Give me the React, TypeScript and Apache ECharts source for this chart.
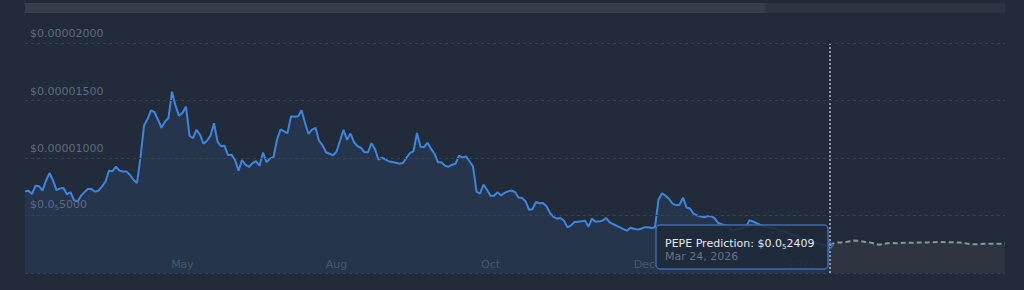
import React, { useEffect, useRef } from 'react';
import * as echarts from 'echarts';

// Historical PEPE price, in millionths of a dollar (1 = $0.000001)
const histPrice = [
  7.10, 7.16, 6.87, 7.59, 7.55, 7.16, 8.04, 8.69, 8.07, 7.20,
  7.35, 7.39, 6.84, 7.03, 6.33, 6.20, 6.72, 7.03, 7.33, 7.29,
  7.07, 7.16, 7.53, 7.94, 8.90, 8.85, 9.24, 8.90, 8.83, 8.83,
  8.52, 8.11, 7.83, 10.03, 12.83, 13.39, 14.14, 13.98, 13.33, 12.63,
  13.16, 13.48, 15.77, 14.55, 13.68, 13.94, 14.46, 11.94, 11.72, 12.46,
  12.03, 11.24, 11.50, 11.94, 13.03, 11.42, 11.03, 11.07, 10.25, 10.29,
  9.85, 8.90, 9.81, 9.42, 9.22, 9.55, 9.72, 9.33, 10.46, 9.65,
  9.94, 10.07, 11.59, 12.50, 12.31, 12.17, 13.62, 13.59, 13.62, 14.16,
  13.07, 12.09, 12.46, 12.63, 11.50, 11.11, 10.50, 10.37, 10.24, 10.55,
  11.50, 12.46, 11.59, 12.13, 11.37, 11.03, 10.87, 10.49, 10.50, 11.29,
  10.77, 9.85, 10.03, 9.85, 9.70, 9.65, 9.59, 9.50, 9.57, 10.03,
  10.43, 10.59, 12.17, 10.98, 10.94, 11.33, 10.81, 10.37, 9.63, 9.63,
  9.33, 9.24, 9.42, 9.50, 10.20, 10.03, 10.14, 9.72, 9.27, 7.07,
  6.90, 7.68, 7.24, 6.72, 6.72, 7.03, 6.75, 6.96, 7.10, 7.17,
  7.04, 6.57, 6.52, 6.24, 5.50, 5.55, 6.17, 6.07, 6.09, 5.81,
  5.22, 4.88, 4.72, 4.78, 4.55, 3.97, 4.14, 4.43, 4.46, 4.49,
  4.55, 4.03, 4.72, 4.46, 4.49, 4.55, 4.78, 4.43, 4.26, 4.11,
  3.97, 3.81, 3.68, 3.94, 3.85, 3.77, 3.85, 3.97, 3.97, 3.91,
  3.97, 6.37, 6.94, 6.72, 6.46, 6.03, 5.90, 5.94, 6.55, 5.70,
  5.61, 5.16, 5.01, 4.91, 4.85, 4.94, 4.94, 4.77, 4.37, 4.24,
  4.16, 4.05, 3.72, 3.72, 3.83, 3.90, 4.03, 4.59, 4.48, 4.33,
  4.20, 4.10, 4.02, 3.96, 3.88, 3.77, 3.66, 3.63, 3.49, 3.38,
  3.28, 3.17, 3.03, 2.96, 2.91, 2.77, 2.63, 2.55, 2.46, 2.37,
  2.41,
];

// Predicted price, starting at today's point
const predPrice = [
  2.41, 2.58, 2.64, 2.66, 2.68, 2.72, 2.76, 2.82, 2.80, 2.76,
  2.70, 2.68, 2.62, 2.52, 2.46, 2.52, 2.57, 2.60, 2.61, 2.58,
  2.60, 2.62, 2.63, 2.63, 2.64, 2.65, 2.66, 2.66, 2.66, 2.67,
  2.68, 2.69, 2.70, 2.68, 2.67, 2.67, 2.66, 2.66, 2.62, 2.57,
  2.52, 2.49, 2.50, 2.52, 2.54, 2.55, 2.55, 2.55, 2.55, 2.55,
  2.56,
];

const xTickIndex = [45, 89, 133, 177, 222];
const xTickLabels = ['May', 'Aug', 'Oct', 'Dec', '2026'];
const yTickValues = [5, 10, 15, 20];
const yTickLabels = ['{a|$0.0}{s|5}{a|5000}', '$0.00001000', '$0.00001500', '$0.00002000'];
const tooltipText = '{t|PEPE Prediction: $0.0}{s|5}{t|2409}';
const tooltipDate = 'Mar 24, 2026';

const FONT = 'DejaVu Sans';
const BG = '#212b3a';

export default function App() {
  const ref = useRef<HTMLDivElement>(null);

  useEffect(() => {
    const chart = echarts.init(ref.current!, null, { renderer: 'svg' });
    const todayIndex = histPrice.length - 1;
    const total = histPrice.length + predPrice.length - 1;
    const categories = Array.from({ length: total }, (_, i) => String(i));
    const histData = categories.map((_, i) => (i < histPrice.length ? histPrice[i] : null));
    const predData = categories.map((_, i) => (i >= todayIndex ? predPrice[i - todayIndex] : null));

    const labelColor = '#5e6c80';

    chart.setOption({
      animation: false,
      backgroundColor: BG,
      grid: { left: 25, right: 19, top: 43, bottom: 17 },
      xAxis: {
        type: 'category',
        data: categories,
        boundaryGap: false,
        z: 10,
        axisLine: { show: false },
        axisTick: { show: false },
        splitLine: { show: false },
        axisLabel: {
          inside: true,
          margin: 3,
          color: '#4a586c',
          fontSize: 11,
          fontFamily: FONT,
          interval: (i: number) => xTickIndex.includes(i),
          formatter: (_v: string, i: number) => {
            const k = xTickIndex.indexOf(i);
            return k >= 0 ? xTickLabels[k] : '';
          },
        },
      },
      yAxis: {
        type: 'value',
        min: 0,
        max: 20,
        interval: 5,
        z: 10,
        axisLine: { show: false },
        axisTick: { show: false },
        splitLine: { lineStyle: { color: '#36414f', type: [3, 3], width: 1 } },
        axisLabel: {
          inside: true,
          margin: 5,
          verticalAlign: 'bottom',
          padding: [0, 0, 4, 0],
          color: labelColor,
          fontSize: 11,
          fontFamily: FONT,
          formatter: (v: number) => {
            const k = yTickValues.indexOf(v);
            return k >= 0 ? yTickLabels[k] : '';
          },
          rich: {
            a: { color: labelColor, fontSize: 11, fontFamily: FONT },
            s: { color: labelColor, fontSize: 7, fontFamily: FONT, padding: [8, 0, 0, 0] },
          },
        },
      },
      series: [
        {
          type: 'line',
          data: histData,
          symbol: 'none',
          connectNulls: false,
          lineStyle: { color: '#3d86df', width: 2 },
          areaStyle: { color: '#26354c', opacity: 1 },
          z: 3,
          markLine: {
            silent: true,
            symbol: ['none', 'none'],
            label: { show: false },
            lineStyle: { color: '#8f959d', type: 'dotted', width: 2 },
            data: [{ xAxis: String(todayIndex) }],
          },
        },
        {
          type: 'line',
          data: predData,
          symbol: 'none',
          lineStyle: { color: '#8d939b', width: 2, type: [5, 3] },
          areaStyle: { color: '#2e3540', opacity: 1 },
          z: 2,
        },
      ],
      graphic: [
        { type: 'rect', shape: { x: 25, y: 3, width: 980, height: 10 }, style: { fill: '#2c3441' }, silent: true },
        { type: 'rect', shape: { x: 25, y: 3, width: 740, height: 10 }, style: { fill: '#363f4c' }, silent: true },
        {
          type: 'rect',
          shape: { x: 656, y: 225, width: 172, height: 44, r: 4 },
          style: { fill: 'rgba(31,41,56,0.88)', stroke: '#3a6cb2', lineWidth: 1.5 },
          z: 100,
        },
        {
          type: 'polyline',
          shape: { points: [[828, 240], [833, 245.5], [828, 251]] },
          style: { stroke: '#3a6cb2', lineWidth: 1.5, fill: 'none' },
          z: 100,
        },
        {
          type: 'text',
          x: 665,
          y: 243,
          z: 101,
          style: {
            text: tooltipText,
            verticalAlign: 'middle',
            rich: {
              t: { fill: '#e6e9ee', fontSize: 11, fontFamily: FONT },
              s: { fill: '#e6e9ee', fontSize: 7, fontFamily: FONT, padding: [8, 0, 0, 0] },
            },
          },
        },
        {
          type: 'text',
          x: 665,
          y: 256,
          z: 101,
          style: { text: tooltipDate, fill: '#687487', fontSize: 11, fontFamily: FONT, verticalAlign: 'middle' },
        },
      ],
    });

    return () => chart.dispose();
  }, []);

  return (
    <div
      ref={ref}
      style={{ position: 'fixed', left: 0, top: 0, width: 1024, height: 290, background: BG }}
    />
  );
}
